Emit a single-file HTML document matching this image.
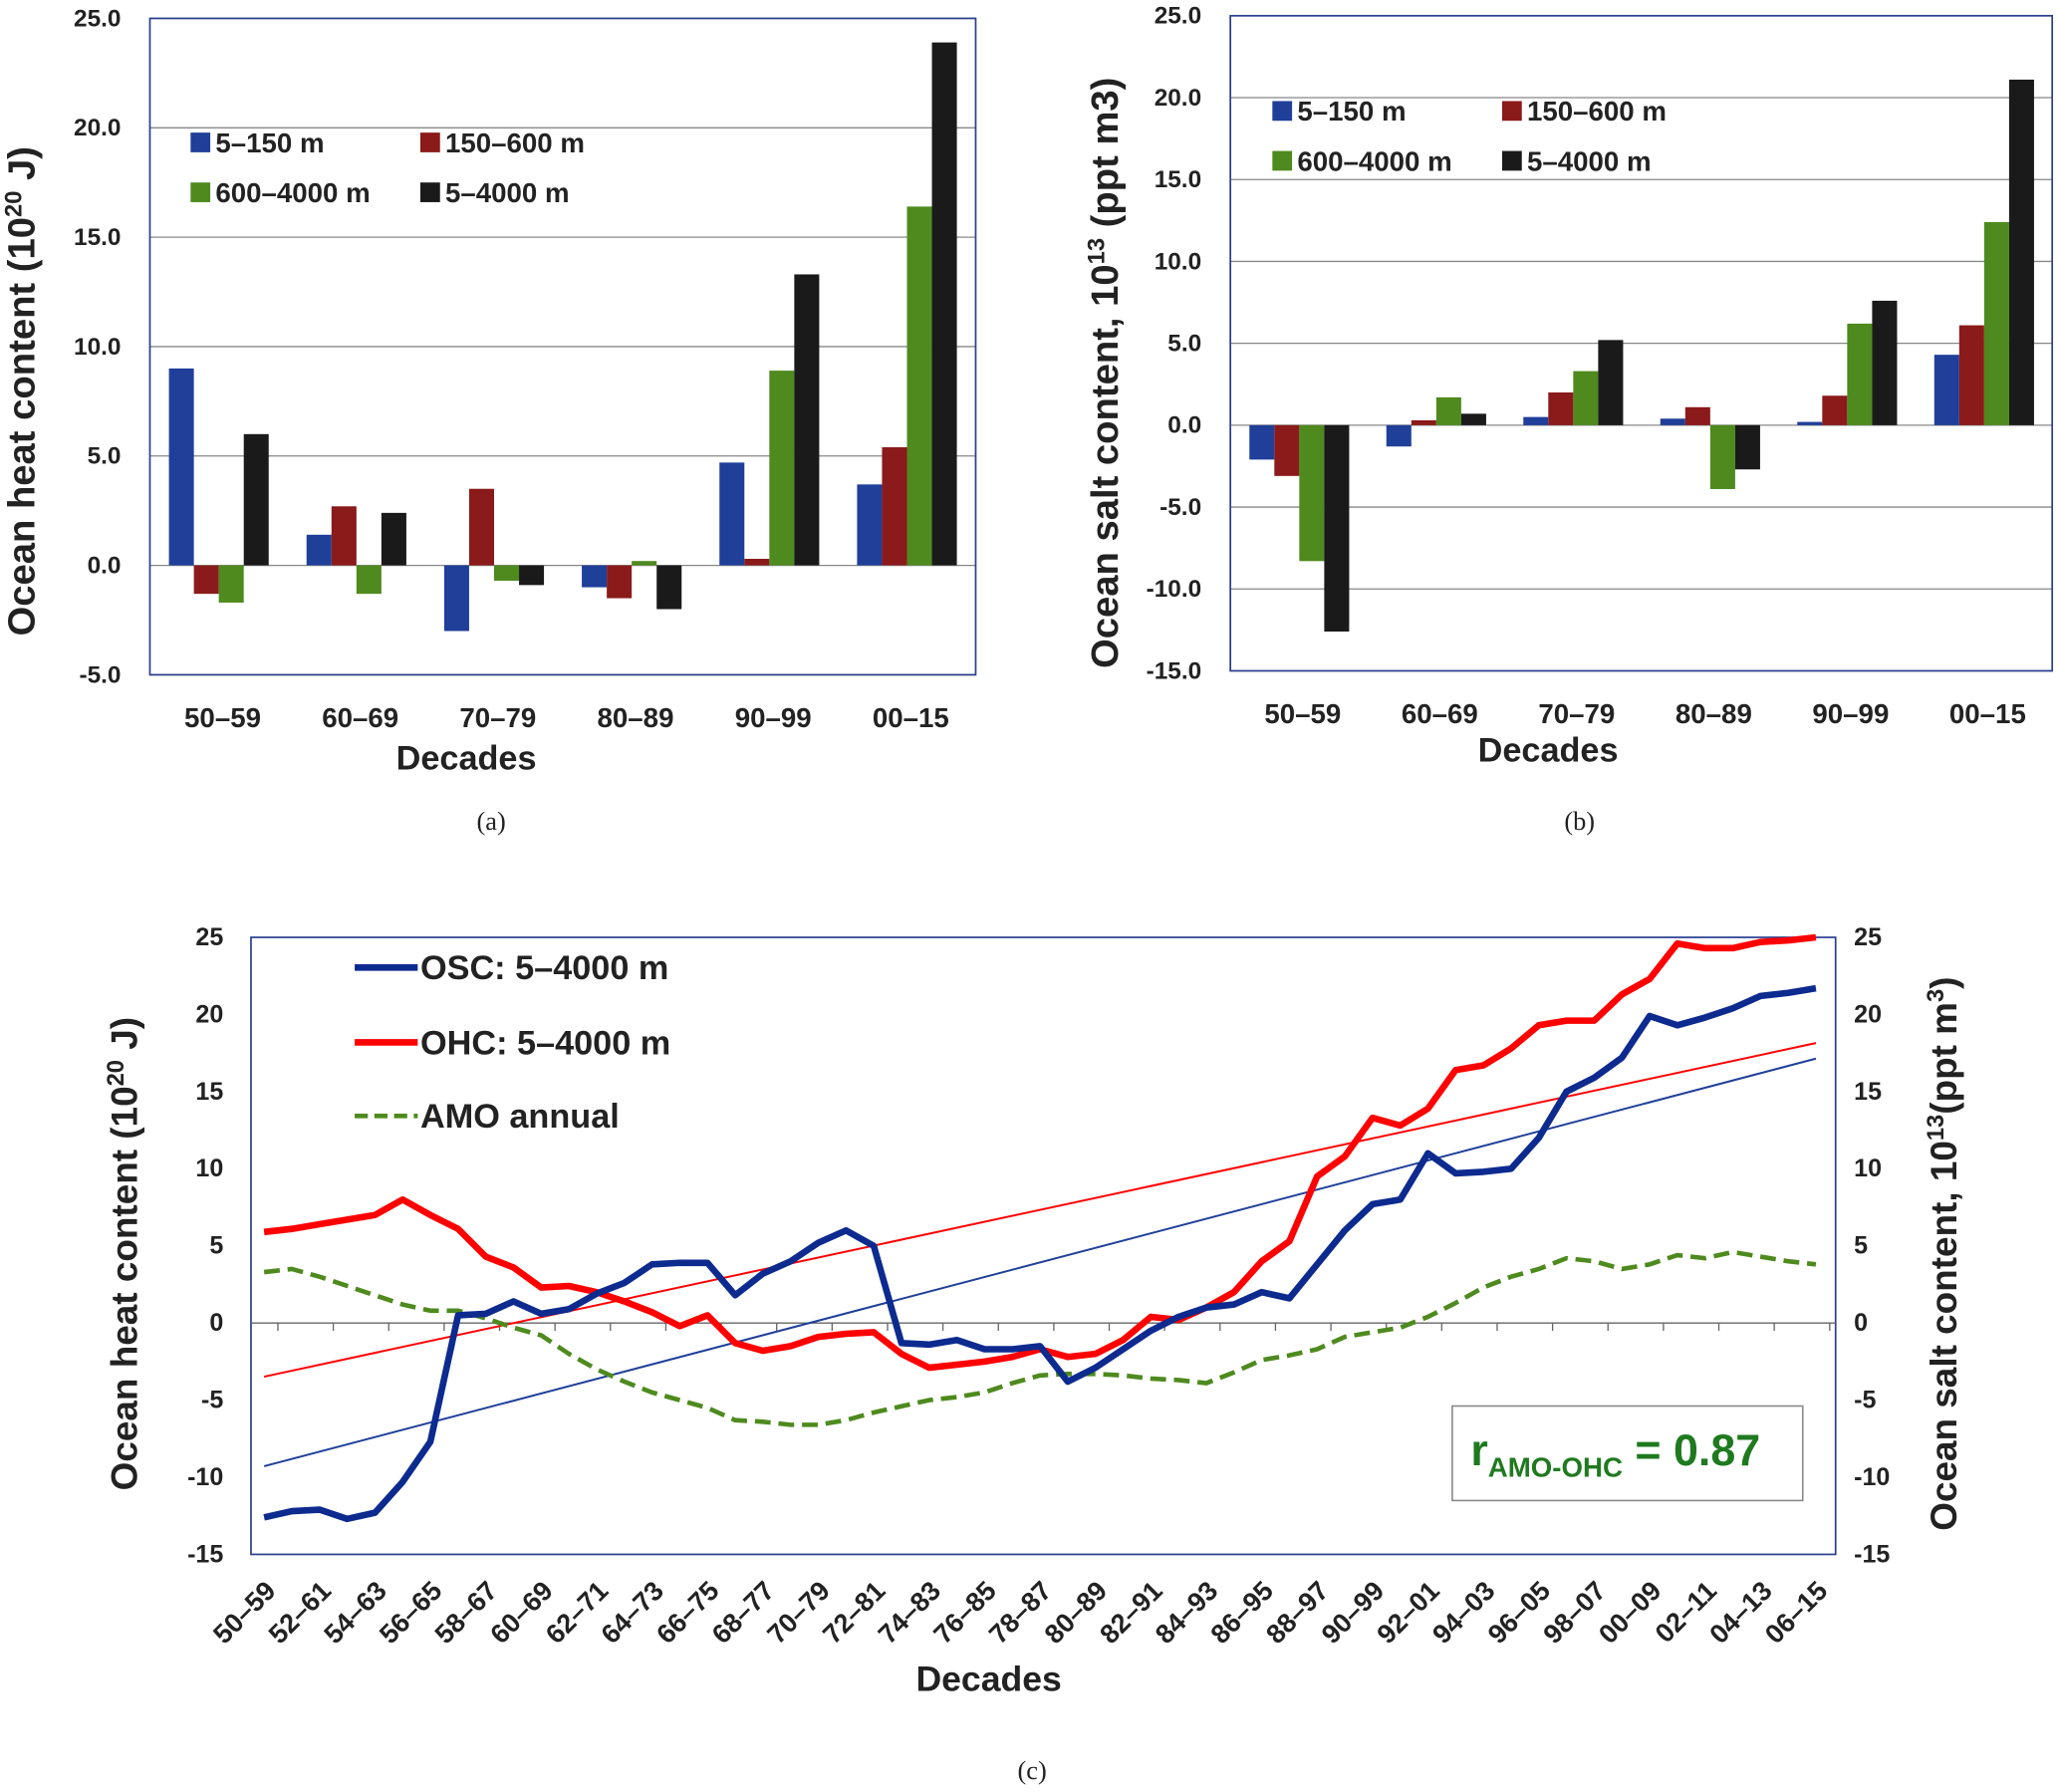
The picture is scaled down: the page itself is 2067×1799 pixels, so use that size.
<!DOCTYPE html>
<html><head><meta charset="utf-8">
<style>
html,body{margin:0;padding:0;background:#fff;}
svg{display:block;font-family:"Liberation Sans",sans-serif;}
.tk{font-size:18.5px;font-weight:bold;fill:#222;}
.cap{font-family:"Liberation Serif",serif;font-size:20px;fill:#222;}
</style></head>
<body>
<svg id="fig" width="2067" height="1799" viewBox="0 0 1568 1365" xmlns="http://www.w3.org/2000/svg">
</svg>
<script>
const decades = ["50–59","60–69","70–79","80–89","90–99","00–15"];
const seriesNames = ["5–150 m","150–600 m","600–4000 m","5–4000 m"];
const ohc_5_150 = [9.0,1.4,-3.0,-1.0,4.7,3.7];
const ohc_150_600 = [-1.3,2.7,3.5,-1.5,0.3,5.4];
const ohc_600_4000 = [-1.7,-1.3,-0.7,0.2,8.9,16.4];
const ohc_5_4000 = [6.0,2.4,-0.9,-2.0,13.3,23.9];
const osc_5_150 = [-2.1,-1.3,0.5,0.4,0.2,4.3];
const osc_150_600 = [-3.1,0.3,2.0,1.1,1.8,6.1];
const osc_600_4000 = [-8.3,1.7,3.3,-3.9,6.2,12.4];
const osc_5_4000 = [-12.6,0.7,5.2,-2.7,7.6,21.1];
const ticksA = ["25.0","20.0","15.0","10.0","5.0","0.0","-5.0"];
const ticksB = ["25.0","20.0","15.0","10.0","5.0","0.0","-5.0","-10.0","-15.0"];
const startYears = [1950,1951,1952,1953,1954,1955,1956,1957,1958,1959,1960,1961,1962,1963,1964,1965,1966,1967,1968,1969,1970,1971,1972,1973,1974,1975,1976,1977,1978,1979,1980,1981,1982,1983,1984,1985,1986,1987,1988,1989,1990,1991,1992,1993,1994,1995,1996,1997,1998,1999,2000,2001,2002,2003,2004,2005,2006];
const oscLine = [-12.6,-12.2,-12.1,-12.7,-12.3,-10.3,-7.7,0.5,0.6,1.4,0.6,0.9,1.9,2.6,3.8,3.9,3.9,1.8,3.2,4.0,5.2,6.0,5.0,-1.3,-1.4,-1.1,-1.7,-1.7,-1.5,-3.8,-2.9,-1.7,-0.5,0.4,1.0,1.2,2.0,1.6,3.8,6.0,7.7,8.0,11.0,9.7,9.8,10.0,12.0,15.0,15.9,17.2,19.9,19.3,19.8,20.4,21.2,21.4,21.7];
const ohcLine = [5.9,6.1,6.4,6.7,7.0,8.0,7.0,6.1,4.3,3.6,2.3,2.4,2.0,1.4,0.7,-0.2,0.5,-1.3,-1.8,-1.5,-0.9,-0.7,-0.6,-2.0,-2.9,-2.7,-2.5,-2.2,-1.7,-2.2,-2.0,-1.1,0.4,0.2,1.0,2.0,4.0,5.3,9.5,10.8,13.3,12.8,13.9,16.4,16.7,17.8,19.3,19.6,19.6,21.3,22.3,24.6,24.3,24.3,24.7,24.8,25.0];
const amoLine = [3.3,3.5,3.0,2.4,1.8,1.2,0.8,0.8,0.3,-0.3,-0.8,-2.0,-3.0,-3.8,-4.5,-5.0,-5.5,-6.3,-6.4,-6.6,-6.6,-6.3,-5.8,-5.4,-5.0,-4.8,-4.5,-3.9,-3.4,-3.3,-3.3,-3.4,-3.6,-3.7,-3.9,-3.2,-2.4,-2.1,-1.7,-0.9,-0.6,-0.3,0.4,1.3,2.3,3.0,3.5,4.2,4.0,3.5,3.8,4.4,4.2,4.6,4.3,4.0,3.8];
const ticksC = [25,20,15,10,5,0,-5,-10,-15];

const svg = document.getElementById('fig');
const NS = "http://www.w3.org/2000/svg";
function mk(tag, attrs, parent){const e=document.createElementNS(NS,tag);for(const k in attrs)e.setAttribute(k,attrs[k]);(parent||svg).appendChild(e);return e;}
function txt(s, attrs, parent){const e=mk('text',attrs,parent);e.textContent=s;return e;}
const colors=["#1f3f99","#8b1a1a","#4e8a1e","#1a1a1a"];

function barChart(opt){
  const g=mk('g',{});
  
  
  const y=v=>opt.y0+(opt.vmax-v)*(opt.y1-opt.y0)/(opt.vmax-opt.vmin);
  opt.ticks.forEach(t=>{
    const v=parseFloat(t);
    const l=mk('line',{x1:opt.x0,x2:opt.x1,y1:y(v),y2:y(v),stroke:'#888','stroke-width':1},g);
    
    
    const tl=txt(t,{x:opt.x0-22,y:y(v)+6,'text-anchor':'end',class:'tk'},g);
    
    
  });
  const gw=(opt.x1-opt.x0)/decades.length;
  opt.series.forEach((s,si)=>{
    s.forEach((v,i)=>{
      const bx=opt.x0+i*gw+14.5+si*19;
      const r=mk('rect',{x:bx,y:Math.min(y(v),y(0)),width:19,height:Math.abs(y(v)-y(0)),fill:colors[si]},g);
      
      
    });
  });
  decades.forEach((d,i)=>{
    const t=txt(d,{x:opt.x0+(i+0.5)*gw+3,y:opt.xl,'text-anchor':'middle',class:'tk',style:'font-size:21px'},g);
    
    
  });
  const b=mk('rect',{x:opt.x0,y:opt.y0,width:opt.x1-opt.x0,height:opt.y1-opt.y0,fill:'none',stroke:'#2a3f8f','stroke-width':1.3},g);
  
  
  const xt=txt('Decades',{x:opt.dx,y:opt.dy,'text-anchor':'middle',style:'font-size:26px;font-weight:bold;fill:#222'},g);
  
  
  const yt=mk('text',{transform:`translate(${opt.ytx},${opt.yty}) rotate(-90)`,'text-anchor':'middle',style:'font-size:29px;font-weight:bold;fill:#222'},g);
  yt.innerHTML=opt.ytitle;
  
  
  seriesNames.forEach((n,si)=>{
    const lx=opt.lx[si%2], ly=opt.ly[Math.floor(si/2)];
    const le=mk('g',{},g);
    
    
    mk('rect',{x:lx,y:ly-8,width:15,height:15,fill:colors[si]},le);
    txt(n,{x:lx+19,y:ly+7,style:'font-size:21px;font-weight:bold;fill:#222'},le);
  });
  const c=txt(opt.cap,{x:opt.capx,y:opt.capy,'text-anchor':'middle',class:'cap'},g);
  
  
}
barChart({name:'chart-a-heat',x0:114,x1:743,y0:14,y1:514,vmax:25,vmin:-5,ticks:ticksA,
  series:[ohc_5_150,ohc_150_600,ohc_600_4000,ohc_5_4000],xl:554,dx:355,dy:586,
  ytx:26,yty:298,ytitle:'Ocean heat content (10<tspan dy="-10" font-size="18">20</tspan><tspan dy="10"> J)</tspan>',
  lx:[145,320],ly:[109,147],cap:'(a)',capx:374,capy:632});
barChart({name:'chart-b-salt',x0:937,x1:1563,y0:12,y1:511,vmax:25,vmin:-15,ticks:ticksB,
  series:[osc_5_150,osc_150_600,osc_600_4000,osc_5_4000],xl:551,dx:1179,dy:580,
  ytx:851,yty:284,ytitle:'Ocean salt content, 10<tspan dy="-10" font-size="18">13</tspan><tspan dy="10"> (ppt m3)</tspan>',
  lx:[969,1144],ly:[85,123],cap:'(b)',capx:1203,capy:632});

// Chart c
(function(){
  const g=mk('g',{});
  
  
  const X0=191,X1=1398,Y0=714,Y1=1184,px0=201,px1=1383;
  const y=v=>Y0+(25-v)*(Y1-Y0)/40;
  const x=i=>px0+i*(px1-px0)/(startYears.length-1);
  const b=mk('rect',{x:X0,y:Y0,width:X1-X0,height:Y1-Y0,fill:'none',stroke:'#2a3f8f','stroke-width':1.3},g);
  
  
  const z=mk('line',{x1:X0,x2:X1,y1:y(0),y2:y(0),stroke:'#666','stroke-width':1},g);
  
  
  ticksC.forEach(t=>{
    const a=txt(String(t),{x:170,y:y(t)+6,'text-anchor':'end',class:'tk',style:'font-size:19px'},g);
    
    
    const r=txt(String(t),{x:1412,y:y(t)+6,'text-anchor':'start',class:'tk',style:'font-size:19px'},g);
    
    
  });
  startYears.forEach((s,i)=>{
    if(i%2) return;
    const tm=mk('line',{x1:x(i)+10.5,x2:x(i)+10.5,y1:y(0),y2:y(0)+6,stroke:'#666'},g);
    
    
    const lab=String(s%100).padStart(2,'0')+'–'+String((s+9)%100).padStart(2,'0');
    const ax=x(i)+10, ay=1213;
    const t=txt(lab,{x:ax,y:ay,'text-anchor':'end',class:'tk',style:'font-size:20.5px',transform:`rotate(-45 ${ax} ${ay})`},g);
    
    
  });
  function trend(arr,col,name){
    const n=arr.length;let sx=0,sy=0,sxy=0,sxx=0;
    arr.forEach((v,i)=>{sx+=i;sy+=v;sxy+=i*v;sxx+=i*i;});
    const m=(n*sxy-sx*sy)/(n*sxx-sx*sx), c=(sy-m*sx)/n;
    const l=mk('line',{x1:x(0),y1:y(c),x2:x(n-1),y2:y(c+m*(n-1)),stroke:col,'stroke-width':1.5},g);
    
    
  }
  trend(ohcLine,'#ff0000','ohc-trend-line');
  trend(oscLine,'#1f3f99','osc-trend-line');
  function line(arr,col,w,dash,name){
    const p=mk('polyline',{points:arr.map((v,i)=>x(i)+','+y(v)).join(' '),fill:'none',stroke:col,'stroke-width':w,'stroke-linejoin':'round'},g);
    if(dash)p.setAttribute('stroke-dasharray',dash);
    
    
  }
  line(amoLine,'#4e8a1e',3.5,'12,6','amo-line');
  line(ohcLine,'#ff0000',5,null,'ohc-line');
  line(oscLine,'#0d2a8f',5,null,'osc-line');
  [['OSC: 5–4000 m','#0d2a8f',737,null],['OHC: 5–4000 m','#ff0000',794,null],['AMO annual','#4e8a1e',850,'10,5']].forEach(d=>{
    const le=mk('g',{},g);
    
    
    const l=mk('line',{x1:270,x2:318,y1:d[2],y2:d[2],stroke:d[1],'stroke-width':d[3]?3.5:5},le);
    if(d[3])l.setAttribute('stroke-dasharray',d[3]);
    txt(d[0],{x:320,y:d[2]+9,style:'font-size:26px;font-weight:bold;fill:#222'},le);
  });
  const rb=mk('g',{},g);
  
  
  mk('rect',{x:1106,y:1071,width:267,height:72,fill:'#fff',stroke:'#888','stroke-width':1.2},rb);
  const rt=mk('text',{x:1120,y:1116,style:'font-size:34px;font-weight:bold;fill:#1f7a1f'},rb);
  rt.innerHTML='r<tspan dy="9" font-size="21">AMO-OHC</tspan><tspan dy="-9"> = 0.87</tspan>';
  const xt=txt('Decades',{x:753,y:1288,'text-anchor':'middle',style:'font-size:27px;font-weight:bold;fill:#222'},g);
  
  
  const yl=mk('text',{transform:'translate(104,955) rotate(-90)','text-anchor':'middle',style:'font-size:28px;font-weight:bold;fill:#222'},g);
  yl.innerHTML='Ocean heat content (10<tspan dy="-10" font-size="18">20</tspan><tspan dy="10"> J)</tspan>';
  
  
  const yr=mk('text',{transform:'translate(1490,955) rotate(-90)','text-anchor':'middle',style:'font-size:28px;font-weight:bold;fill:#222'},g);
  yr.innerHTML='Ocean salt content, 10<tspan dy="-10" font-size="18">13</tspan><tspan dy="10">(ppt m</tspan><tspan dy="-10" font-size="18">3</tspan><tspan dy="10">)</tspan>';
  
  
  const c=txt('(c)',{x:786,y:1355,'text-anchor':'middle',class:'cap'},g);
  
  
})();
</script>
</body></html>
